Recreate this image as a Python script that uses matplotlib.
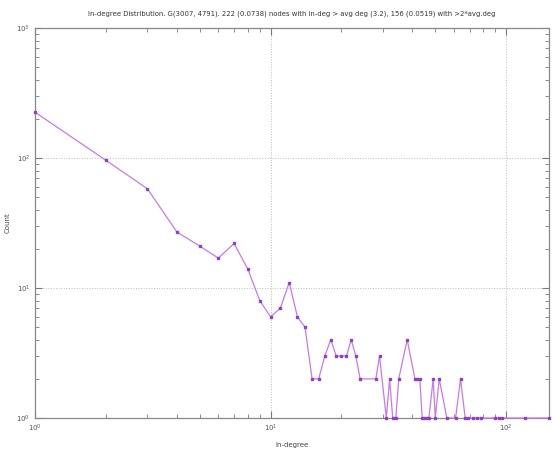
import numpy as np
import matplotlib
matplotlib.use('Agg')
import matplotlib.pyplot as plt
from matplotlib.ticker import LogLocator, NullFormatter

# in-degree -> count (zero counts are left out, as on a log axis)
in_degree = [1, 2, 3, 4, 5, 6, 7, 8, 9, 10, 11, 12, 13, 14, 15, 16, 17, 18, 19, 20,
             21, 22, 23, 24, 28, 29, 31, 32, 33, 34, 35, 38, 41, 42, 43, 44, 45, 46, 47,
             49, 50, 52, 56, 61, 64, 67, 69, 72, 75, 78, 90, 93, 96, 120, 152]
count = [225, 96, 58, 27, 21, 17, 22, 14, 8, 6, 7, 11, 6, 5, 2, 2, 3, 4, 3, 3,
         3, 4, 3, 2, 2, 3, 1, 2, 1, 1, 2, 4, 2, 2, 2, 1, 1, 1, 1,
         2, 1, 2, 1, 1, 2, 1, 1, 1, 1, 1, 1, 1, 1, 1, 1]

title = ("In-degree Distribution. G(3007, 4791). 222 (0.0738) nodes with in-deg > avg deg (3.2), "
         "156 (0.0519) with >2*avg.deg")

fig = plt.figure(figsize=(5.52, 4.49), dpi=100)
ax = fig.add_axes([35 / 552, 1 - 418 / 449, 514 / 552, 390 / 449])

ax.plot(in_degree, count, color='#c67ae6', lw=0.9, marker='s', ms=1.8,
        mfc='#8c40c8', mec='#8c40c8', clip_on=False, zorder=3)

ax.set_xscale('log')
ax.set_yscale('log')
ax.set_xlim(1, 152)
ax.set_ylim(1, 1000)

ax.xaxis.set_major_locator(LogLocator(base=10, numticks=10))
ax.yaxis.set_major_locator(LogLocator(base=10, numticks=10))
ax.xaxis.set_minor_locator(LogLocator(base=10, subs=np.arange(2, 10), numticks=20))
ax.yaxis.set_minor_locator(LogLocator(base=10, subs=np.arange(2, 10), numticks=20))
ax.xaxis.set_minor_formatter(NullFormatter())
ax.yaxis.set_minor_formatter(NullFormatter())

ax.tick_params(which='both', direction='in', top=True, right=True, colors='#777777',
               labelcolor='#555555', labelsize=5)
ax.tick_params(which='major', length=5, width=0.8)
ax.tick_params(which='minor', length=3, width=0.6)
for s in ax.spines.values():
    s.set_color('#888888')
    s.set_linewidth(0.9)

ax.grid(True, which='major', color='#bbbbbb', ls=':', lw=0.7)

ax.set_title(title, fontsize=4.95, color='#333333', pad=9)
ax.set_xlabel('In-degree', fontsize=5, color='#444444', labelpad=6)
ax.set_ylabel('Count', fontsize=5, color='#444444')
ax.yaxis.set_label_coords(-0.048, 0.5)

fig.savefig('out.png', dpi=100)
